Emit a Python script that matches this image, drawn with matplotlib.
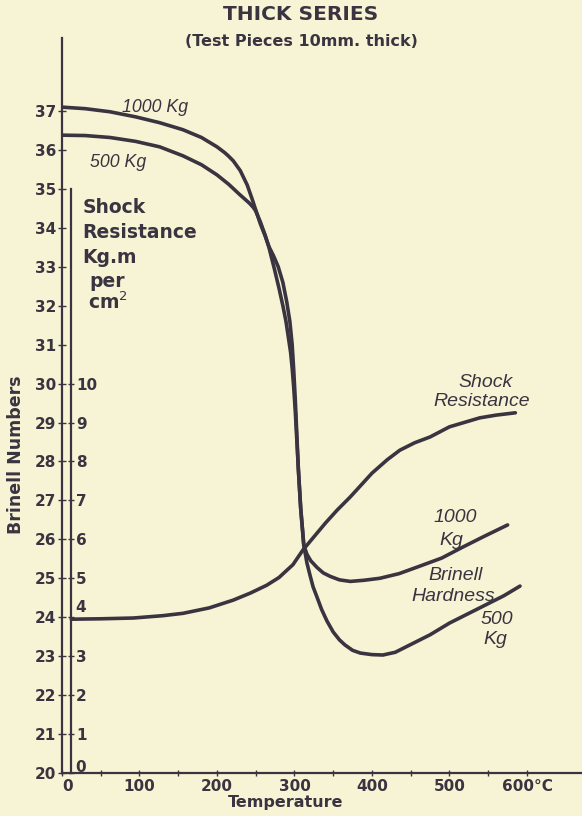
import numpy as np
import matplotlib
matplotlib.use("Agg")
import matplotlib.pyplot as plt

# Brinell hardness, 1000 Kg load
temp_1000 = [0, 30, 62, 95, 126, 156, 180, 200, 210, 215, 221, 230, 239, 245, 250, 256,
             262, 267, 273, 279, 285, 290, 294, 297, 299, 301, 303, 305, 308, 312, 316,
             321, 329, 337, 346, 358, 372, 390, 410, 435, 460, 490, 517, 545, 575]
brinell_1000 = [37.10, 37.06, 36.98, 36.85, 36.70, 36.52, 36.32, 36.08, 35.93, 35.84,
                35.72, 35.47, 35.10, 34.76, 34.46, 34.10, 33.80, 33.52, 33.28, 33.00,
                32.60, 32.10, 31.60, 31.00, 30.35, 29.60, 28.70, 27.80, 26.80, 25.85,
                25.62, 25.45, 25.28, 25.14, 25.05, 24.96, 24.92, 24.95, 25.00, 25.12,
                25.30, 25.52, 25.80, 26.08, 26.37]

# Brinell hardness, 500 Kg load
temp_500 = [0, 30, 62, 95, 126, 156, 180, 200, 215, 229, 242, 247, 250, 256, 262, 267,
            274, 280, 285, 289, 292, 295, 297, 299, 301, 305, 308, 312, 316, 320, 324,
            329, 335, 342, 350, 358, 365, 375, 385, 400, 414, 430, 450, 475, 500, 525,
            545, 570, 591]
brinell_500 = [36.38, 36.37, 36.32, 36.22, 36.08, 35.85, 35.62, 35.36, 35.12, 34.86,
               34.63, 34.52, 34.43, 34.15, 33.82, 33.50, 32.95, 32.45, 32.00, 31.60,
               31.20, 30.80, 30.40, 29.90, 29.30, 27.80, 26.80, 25.85, 25.40, 25.08,
               24.78, 24.52, 24.20, 23.90, 23.62, 23.42, 23.29, 23.15, 23.08, 23.04,
               23.03, 23.10, 23.30, 23.55, 23.85, 24.10, 24.30, 24.55, 24.80]

# shock resistance, Kg.m per cm2
temp_shock = [12, 50, 92, 130, 156, 190, 221, 243, 264, 280, 298, 311, 340, 355, 372,
              400, 420, 436, 455, 475, 500, 539, 560, 585]
shock = [3.95, 3.96, 3.98, 4.04, 4.10, 4.24, 4.44, 4.62, 4.82, 5.02, 5.35, 5.73, 6.42,
         6.75, 7.09, 7.70, 8.05, 8.29, 8.48, 8.63, 8.89, 9.12, 9.19, 9.25]

brinell_ticks = list(range(20, 38))
shock_ticks = list(range(0, 11))
temp_ticks = [0, 100, 200, 300, 400, 500, 600]
temp_labels = ["0", "100", "200", "300", "400", "500", "600°C"]

bg = "#f7f4d6"
ink = "#3a3440"
plt.rcParams['font.family'] = ['DejaVu Sans']

fig = plt.figure(figsize=(5.82, 8.16), dpi=100, facecolor=bg)
ax = fig.add_axes([62 / 582, 1 - 773 / 816, 520 / 582, 735 / 816])
ax.set_facecolor(bg)
ax.set_xlim(0, 671)
ax.set_ylim(20, 38.875)

lw = 2.6
line_style = dict(color=ink, lw=lw, solid_joinstyle='round', solid_capstyle='round')
ax.plot(temp_1000, brinell_1000, **line_style)
ax.plot(temp_500, brinell_500, **line_style)

for s in ['top', 'right']:
    ax.spines[s].set_visible(False)
for s in ['left', 'bottom']:
    ax.spines[s].set_color(ink)
    ax.spines[s].set_linewidth(1.6)

ax.set_yticks(brinell_ticks)
ax.set_yticklabels([str(t) for t in brinell_ticks])
ax.set_xticks(temp_ticks)
ax.set_xticklabels(temp_labels)
ax.set_xticks(np.arange(50, 600, 100), minor=True)
ax.tick_params(axis='y', direction='inout', length=6, width=1, colors=ink,
               labelsize=11, pad=1)
ax.tick_params(axis='x', which='both', direction='inout', length=5, width=1, colors=ink,
               labelsize=11, pad=2)
for lab in ax.get_yticklabels() + ax.get_xticklabels():
    lab.set_fontweight('bold')
ax.get_xticklabels()[0].set_horizontalalignment('left')

fig.text(16 / 582, 1 - 455 / 816, "Brinell Numbers", rotation=90, fontsize=12.5,
         fontweight='bold', color=ink, ha='center', va='center')
fig.text(286 / 582, 1 - 803 / 816, "Temperature", fontsize=11.5, fontweight='bold',
         color=ink, ha='center', va='center')

# inner shock resistance scale
ax2 = ax.twinx()
ax2.set_ylim(0, 18.875)
ax2.patch.set_visible(False)
for s in ['top', 'left', 'bottom']:
    ax2.spines[s].set_visible(False)
ax2.spines['right'].set_position(('data', 12))
ax2.spines['right'].set_bounds(0, 15)
ax2.spines['right'].set_color(ink)
ax2.spines['right'].set_linewidth(1.6)
ax2.set_yticks(shock_ticks)
ax2.set_yticklabels(["" if t in (0, 4) else str(t) for t in shock_ticks])
ax2.tick_params(axis='y', direction='inout', length=5, width=1, colors=ink,
                labelsize=11, pad=1)
for lab in ax2.get_yticklabels():
    lab.set_fontweight('bold')
ax2.annotate("4", xy=(12, 4), xytext=(3, 7), textcoords='offset points',
             fontsize=11, fontweight='bold', color=ink, va='center', ha='left')
ax2.annotate("0", xy=(12, 0), xytext=(3, 4), textcoords='offset points',
             fontsize=11, fontweight='bold', color=ink, va='center', ha='left')
ax2.plot(temp_shock, shock, **line_style)

# shock axis title
for txt, x, y in [("Shock", 26, 34.53), ("Resistance", 26, 33.89), ("Kg.m", 26, 33.25),
                  ("per", 35, 32.61), ("cm$^2$", 33, 32.10)]:
    ax.text(x, y, txt, fontsize=13.5, fontweight='bold', color=ink, ha='left', va='center')

# curve labels
it = dict(family=['Liberation Sans', 'DejaVu Sans'], style='italic',
          color=ink, ha='center', va='center')
ax.text(120, 37.08, "1000 Kg", fontsize=12.8, **it)
ax.text(72, 35.67, "500 Kg", fontsize=12.8, **it)
ax.text(546, 30.04, "Shock", fontsize=14, **it)
ax.text(542, 29.53, "Resistance", fontsize=14, **it)
ax.text(508, 26.55, "1000", fontsize=14, **it)
ax.text(503, 25.98, "Kg", fontsize=14, **it)
ax.text(508, 25.08, "Brinell", fontsize=14, **it)
ax.text(505, 24.52, "Hardness", fontsize=14, **it)
ax.text(561, 23.93, "500", fontsize=14, **it)
ax.text(559, 23.42, "Kg", fontsize=14, **it)

fig.text(301 / 582, 1 - 15 / 816, "THICK SERIES", fontsize=14.5, fontweight='bold',
         color=ink, ha='center', va='center')
fig.text(301 / 582, 1 - 42 / 816, "(Test Pieces 10mm. thick)", fontsize=11.5,
         fontweight='bold', color=ink, ha='center', va='center')

fig.savefig("out.png", dpi=100, facecolor=bg)
